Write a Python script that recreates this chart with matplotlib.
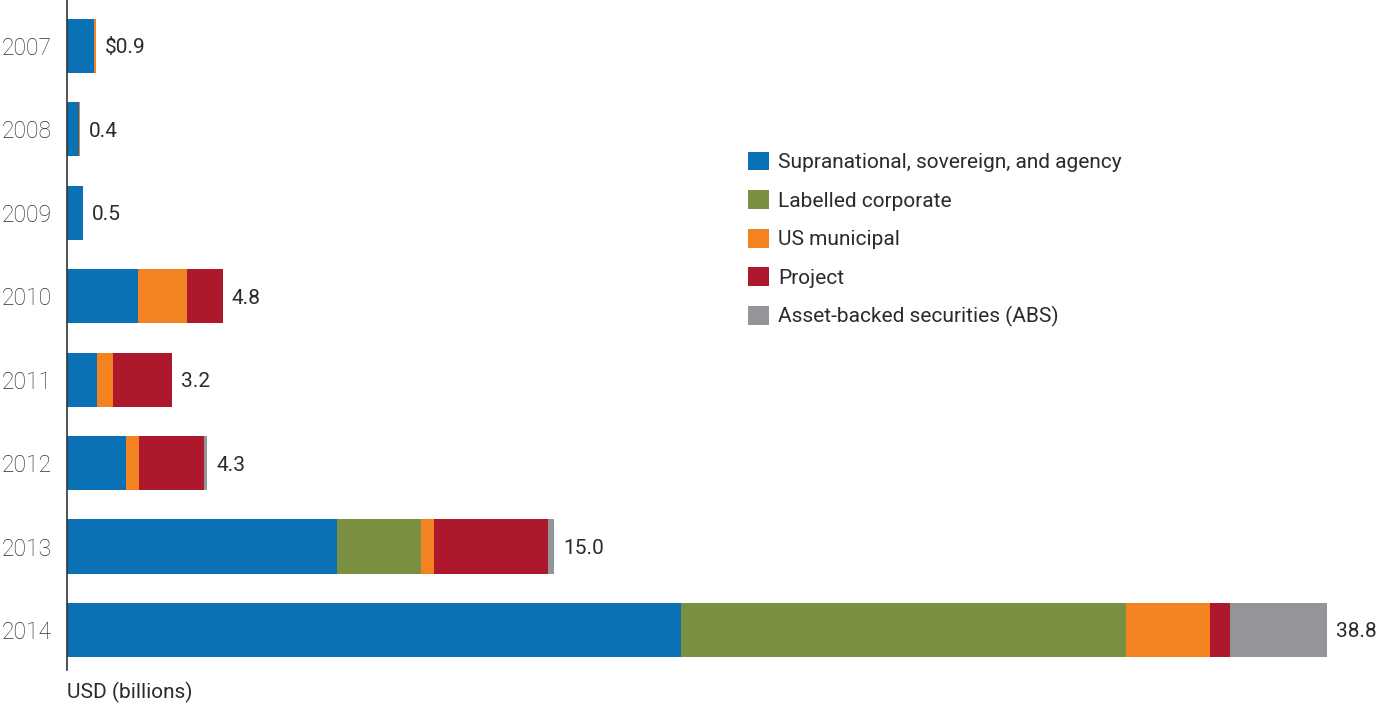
import matplotlib.pyplot as plt
import numpy as np
from matplotlib.patches import Patch

plt.rcParams['font.family'] = ['Roboto', 'DejaVu Sans']

years = ['2007', '2008', '2009', '2010', '2011', '2012', '2013', '2014']
supranational = [0.83, 0.38, 0.5, 2.2, 0.92, 1.82, 8.3, 18.9]
labelled_corp = [0.0, 0.0, 0.0, 0.0, 0.0, 0.0, 2.6, 13.7]
us_municipal = [0.07, 0.02, 0.0, 1.5, 0.5, 0.4, 0.4, 2.6]
project = [0.0, 0.0, 0.0, 1.1, 1.8, 2.0, 3.5, 0.6]
abs_sec = [0.0, 0.0, 0.0, 0.0, 0.0, 0.1, 0.2, 3.0]
totals = ['$0.9', '0.4', '0.5', '4.8', '3.2', '4.3', '15.0', '38.8']

series = [
    ('Supranational, sovereign, and agency', supranational, '#0a71b4'),
    ('Labelled corporate', labelled_corp, '#7a8f40'),
    ('US municipal', us_municipal, '#f38320'),
    ('Project', project, '#ae182c'),
    ('Asset-backed securities (ABS)', abs_sec, '#949599'),
]

fig = plt.figure(figsize=(13.79, 7.04), dpi=100)
ax = fig.add_axes([67 / 1379, 34 / 704, (1366 - 67) / 1379, 670 / 704])

y = np.arange(len(years))
left = np.zeros(len(years))
for name, vals, col in series:
    ax.barh(y, vals, left=left, height=0.65, color=col, label=name, linewidth=0)
    left += np.array(vals)

for i, txt in enumerate(totals):
    ax.text(left[i] + 0.28, y[i], txt, va='center_baseline', ha='left', fontsize=15, color='#2b2b2b')

ax.set_xlim(0, 40)
ax.set_ylim(7.48, -0.55)
ax.set_yticks(y)
ax.set_yticklabels(years, fontsize=16.5, color='#2e2e2e', fontweight='light')
ax.tick_params(axis='y', length=0, pad=11)
ax.set_xticks([])
for s in ['top', 'right', 'bottom']:
    ax.spines[s].set_visible(False)
ax.spines['left'].set_color('#333333')
ax.spines['left'].set_linewidth(1.2)

fig.text(67 / 1379, 1 - 692 / 704, 'USD (billions)', fontsize=15, color='#2b2b2b', va='center', ha='left')

handles = [Patch(facecolor=c, edgecolor='none', label=n) for n, _, c in series]
leg = fig.legend(handles=handles, loc='upper left', bbox_to_anchor=(729 / 1379, 1 - 133 / 704),
                 frameon=False, fontsize=15, handlelength=1.0, handleheight=1.0,
                 handletextpad=0.45, labelspacing=0.87)
for t in leg.get_texts():
    t.set_color('#2b2b2b')

fig.savefig('out.png', dpi=100)
